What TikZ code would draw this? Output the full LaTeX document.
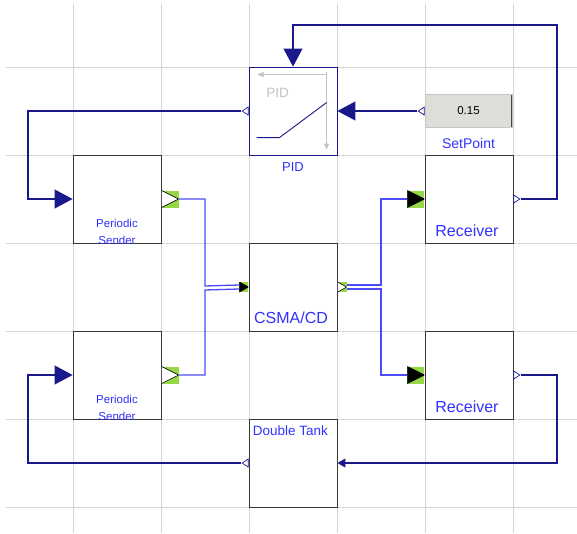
\documentclass[tikz,border=0pt]{standalone}
\usepackage{fontspec}
\setmainfont{Liberation Sans}
\usepackage{tikz}
\usetikzlibrary{
arrows.meta,
positioning,
shapes.geometric,
calc
}
\definecolor{simnavy}{RGB}{25,25,140}
\definecolor{simnet}{RGB}{75,75,250}
\definecolor{simlabel}{RGB}{50,50,255}
\definecolor{simgrid}{RGB}{212,212,212}
\definecolor{simgreen}{RGB}{150,215,70}
\definecolor{simbtn}{RGB}{222,221,216}
\definecolor{simedge}{RGB}{55,55,55}
\definecolor{simpale}{RGB}{195,195,195}

\begin{document}
\begin{tikzpicture}[
  x=1pt, y=-1pt,
  block/.style={draw=simedge, fill=white, line width=0.9pt, minimum width=88pt, minimum height=88pt, inner sep=0pt},
  ctrl/.style={draw=simnavy, line width=1.1pt},
  net/.style={draw=simnet, line width=1.3pt},
  feed/.style={-{Triangle[length=18pt, width=19pt]}},
  feedsmall/.style={-{Triangle[length=8pt, width=9pt]}},
  outport/.style={isosceles triangle, isosceles triangle stretches, shape border rotate=#1, minimum width=8pt, minimum height=6pt, inner sep=0pt, draw=simnavy, fill=white, line width=0.7pt},
  outport/.default=0,
  netport/.style={rectangle, fill=simgreen, inner sep=0pt, minimum width=17pt, minimum height=17pt,
    path picture={\filldraw[draw=black, line width=0.6pt, fill=#1] (path picture bounding box.north west) -- (path picture bounding box.east) -- (path picture bounding box.south west) -- cycle;}},
  netport/.default=white,
  button/.style={draw=gray!45, fill=simbtn, line width=0.8pt, minimum width=87pt, minimum height=33pt, inner sep=0pt,
    path picture={\draw[gray!55!black, line width=1.6pt] (path picture bounding box.south west) -- (path picture bounding box.south east) -- (path picture bounding box.north east);}},
  lbl/.style={text=simlabel, inner sep=0pt},
  gridline/.style={draw=simgrid, line width=0.9pt}
]
\useasboundingbox (0,0) rectangle (577,533);

% Grid
\foreach \x in {73,161,249,337,425,513}
  \draw[gridline] (\x,4) -- (\x,533);
\foreach \y in {67,155,243,331,419,507}
  \draw[gridline] (6,\y) -- (577,\y);

% Blocks
\node[block, draw=simnavy] (pid) at (293,111) {};
\node[block] (ps1) at (117,199) {};
\node[block] (ps2) at (117,375) {};
\node[block] (csma) at (293,287) {};
\node[block] (rx1) at (469,199) {};
\node[block] (rx2) at (469,375) {};
\node[block] (tank) at (293,463) {};
\node[button, font=\fontsize{11.5}{13}\selectfont] (setpoint) at (468.5,111) {0.15};

% PID icon
\draw[simpale, line width=0.9pt, -{Triangle[length=6pt, width=5pt]}] ($(pid.north west)+(78,8)$) -- ($(pid.north west)+(9,8)$);
\draw[simpale, line width=0.9pt, -{Triangle[length=6pt, width=5pt]}] ($(pid.north west)+(78,5)$) -- ($(pid.north west)+(78,83)$);
\draw[simnavy, line width=0.9pt] ($(pid.north west)+(8,71)$) -- ($(pid.north west)+(31,71)$) -- ($(pid.north west)+(78,36)$);
\node[text=simpale, inner sep=0pt, font=\fontsize{13.5}{15}\selectfont] (pidicon) at ($(pid.north west)+(29,26)$) {PID};

% Ports
\node[outport=180, anchor=lower side] (pidout) at (pid.west) {};
\node[outport=180, anchor=lower side] (spout) at (setpoint.west) {};
\node[outport, anchor=lower side] (rx1out) at (rx1.east) {};
\node[outport, anchor=lower side] (rx2out) at (rx2.east) {};
\node[outport=180, anchor=lower side] (tankout) at (tank.west) {};
\node[netport, anchor=west] (ps1out) at (ps1.east) {};
\node[netport, anchor=west] (ps2out) at (ps2.east) {};
\node[netport=black, anchor=east] (rx1in) at (rx1.west) {};
\node[netport=black, anchor=east] (rx2in) at (rx2.west) {};
\node[netport=black, anchor=east, minimum width=9pt, minimum height=10pt] (csmain) at (csma.west) {};
\node[netport, anchor=west, minimum width=9pt, minimum height=10pt] (csmaout) at (csma.east) {};

% Rails
\coordinate (railL) at (28,0);
\coordinate (fbR) at (557,25);
\coordinate (busL) at (205,288);
\coordinate (busR) at (381,288);

% Control signals
\draw[ctrl, feed] (spout.apex) -- (pid.east);
\draw[ctrl, feed] (rx1out.apex) -| (fbR) -| (pid.north);
\draw[ctrl, feed] (pidout.apex) -| (railL |- ps1.west) -- (ps1.west);
\draw[ctrl, feedsmall] (rx2out.apex) -| (fbR |- tank.east) -- (tank.east);
\draw[ctrl, feed] (tankout.apex) -| (railL |- ps2.west) -- (ps2.west);

% Network
\draw[net] (ps1out.east) -| ([yshift=2pt]busL) -- ([yshift=2pt]csmain.west);
\draw[net] (ps2out.east) -| ([yshift=-2pt]busL) -- ([yshift=-2pt]csmain.west);
\draw[net] ([yshift=2pt]csmaout.east) -| (busR |- rx1in.west) -- (rx1in.west);
\draw[net] ([yshift=-2pt]csmaout.east) -| (busR |- rx2in.west) -- (rx2in.west);

% Labels
\node[lbl, below=7pt of pid, font=\fontsize{13}{15}\selectfont] (pidlbl) {PID};
\node[lbl, below=10pt of setpoint, font=\fontsize{14}{16}\selectfont] (splbl) {SetPoint};
\begin{scope}
  \clip (ps1.north west) rectangle (ps1.south east);
  \node[lbl, anchor=base, align=center, font=\fontsize{11.5}{17}\selectfont] (ps1lbl) at ([yshift=-1pt]ps1.south) {Periodic\\Sender};
\end{scope}
\begin{scope}
  \clip (ps2.north west) rectangle (ps2.south east);
  \node[lbl, anchor=base, align=center, font=\fontsize{11.5}{17}\selectfont] (ps2lbl) at ([yshift=-1pt]ps2.south) {Periodic\\Sender};
\end{scope}
\node[lbl, anchor=base, font=\fontsize{16}{18}\selectfont] (csmalbl) at ([xshift=-2pt, yshift=8pt]csma.south) {CSMA/CD};
\node[lbl, anchor=base, font=\fontsize{16}{18}\selectfont] (rx1lbl) at ([xshift=-2pt, yshift=7pt]rx1.south) {Receiver};
\node[lbl, anchor=base, font=\fontsize{16}{18}\selectfont] (rx2lbl) at ([xshift=-2pt, yshift=7pt]rx2.south) {Receiver};
\node[lbl, anchor=base west, font=\fontsize{13.5}{15}\selectfont] (tanklbl) at ([xshift=4pt, yshift=-17pt]tank.north west) {Double Tank};

\end{tikzpicture}
\end{document}
